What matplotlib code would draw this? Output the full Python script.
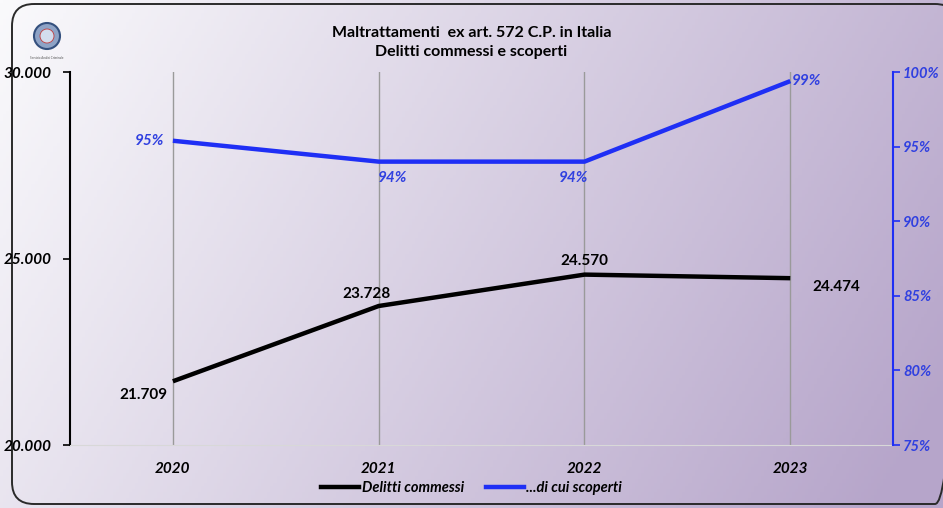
import numpy as np
import matplotlib
matplotlib.use("Agg")
import matplotlib.pyplot as plt
from matplotlib.patches import FancyBboxPatch, Circle

years = ["2020", "2021", "2022", "2023"]
commessi = [21709, 23728, 24570, 24474]
scoperti = [0.954, 0.940, 0.940, 0.994]
left_ticks = [20000, 25000, 30000]
left_labels = ["20.000", "25.000", "30.000"]
right_ticks = [0.75, 0.80, 0.85, 0.90, 0.95, 1.00]

plt.rcParams["font.family"] = ["Lato", "DejaVu Sans"]

fig = plt.figure(figsize=(9.43, 5.08), dpi=100)

# gradient background, in pixel coordinates
bg = fig.add_axes([0, 0, 1, 1], zorder=-10)
xx, yy = np.meshgrid(np.linspace(0, 1, 300), np.linspace(0, 1, 160))
t = np.clip(0.8 * xx + 0.25 * yy, 0, 1)
c0 = np.array([250, 250, 252]) / 255
c1 = np.array([182, 165, 202]) / 255
img = c0[None, None, :] * (1 - t[..., None]) + c1[None, None, :] * t[..., None]
bg.imshow(img, extent=[0, 943, 508, 0], aspect="auto")
bg.set_xlim(0, 943)
bg.set_ylim(508, 0)
bg.axis("off")
bg.add_patch(FancyBboxPatch((12, 4), 945, 500, boxstyle="round,pad=0,rounding_size=22",
                            fc="none", ec="#2a2a2a", lw=1.4))
# logo
bg.add_patch(Circle((47, 36), 13, fc="#8ea3c6", ec="#34507e", lw=1.5))
bg.add_patch(Circle((47, 36), 7, fc="#d3ddee", ec="#c23b3b", lw=0.6))
bg.text(47, 58, "Servizio Analisi Criminale", fontsize=2.2, ha="center", va="center", color="#555555")

ax = fig.add_axes([0.0742, 0.124, 0.873, 0.734])
ax.patch.set_alpha(0)
x = np.arange(len(years))
ax.plot(x, commessi, color="black", lw=3.2, solid_capstyle="butt")
ax.set_xlim(-0.5, 3.5)
ax.set_ylim(20000, 30000)
ax.set_yticks(left_ticks)
ax.set_yticklabels(left_labels, fontsize=11, fontweight="bold", style="italic")
ax.set_xticks(x)
ax.set_xticklabels(years, fontsize=11, fontweight="bold", style="italic")
ax.tick_params(axis="x", length=0, pad=12)
ax.tick_params(axis="y", length=5, width=1.2, pad=8, color="black")
for xi in x:
    ax.axvline(xi, color="#9a9a9a", lw=1, zorder=0)
ax.spines["top"].set_visible(False)
ax.spines["right"].set_visible(False)
ax.spines["left"].set_linewidth(1.5)
ax.spines["bottom"].set_color("#d8d8d8")

fmt = lambda v: f"{v:,}".replace(",", ".")
offsets = [(-21, -10, "center"), (-9, 9, "center"), (0, 10, "center"), (16, -6.5, "left")]
for xi, v, (dx, dy, ha) in zip(x, commessi, offsets):
    ax.annotate(fmt(v), (xi, v), xytext=(dx, dy), textcoords="offset points", ha=ha, va="center",
                fontsize=11, fontweight="bold", color="black")

ax2 = ax.twinx()
ax2.plot(x, scoperti, color="#1f2ff5", lw=3.2, solid_capstyle="butt")
ax2.set_ylim(0.75, 1.0)
ax2.set_yticks(right_ticks)
ax2.set_yticklabels([f"{v:.0%}" for v in right_ticks], fontsize=10.5, fontweight="bold",
                    style="italic", color="#3040e0")
ax2.tick_params(axis="y", length=5, width=1.2, pad=2, color="#1f2ff5")
for s in ["top", "left", "bottom"]:
    ax2.spines[s].set_visible(False)
ax2.spines["right"].set_color("#1f2ff5")
ax2.spines["right"].set_linewidth(1.5)

offsets2 = [(-6, 0, "right"), (10, -12, "center"), (-8, -12, "center"), (1, 0, "left")]
for xi, v, (dx, dy, ha) in zip(x, scoperti, offsets2):
    ax2.annotate(f"{v:.0%}", (xi, v), xytext=(dx, dy), textcoords="offset points",
                 ha=ha, va="center", fontsize=11, fontweight="bold", style="italic", color="#3040e0")

fig.text(0.5, 0.935, "Maltrattamenti  ex art. 572 C.P. in Italia", ha="center", va="center",
         fontsize=11.5, fontweight="bold")
fig.text(0.5, 0.897, "Delitti commessi e scoperti", ha="center", va="center",
         fontsize=11.5, fontweight="bold")

h1, = ax.plot([], [], color="black", lw=3.2)
h2, = ax.plot([], [], color="#1f2ff5", lw=3.2)
fig.legend([h1, h2], ["Delitti commessi", "...di cui scoperti"], loc="center", bbox_to_anchor=(0.5, 0.04),
           ncol=2, frameon=False, handlelength=2.6, handletextpad=0.2, columnspacing=1.5,
           prop={"size": 10.5, "weight": "bold", "style": "italic"})

fig.savefig("out.png", dpi=100)
